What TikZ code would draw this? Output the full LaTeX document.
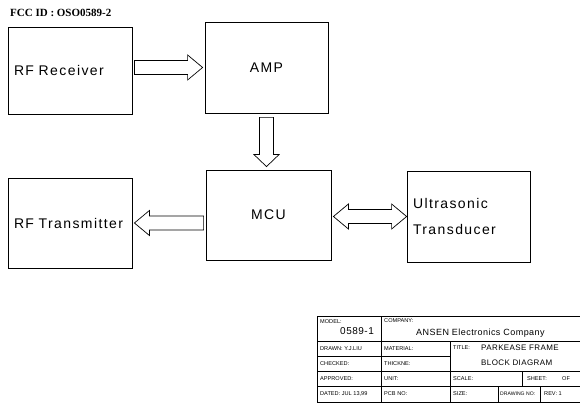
\documentclass[tikz,border=0pt]{standalone}
\usepackage{fontspec}
\setmainfont{Liberation Sans}
\newfontfamily\cadfont[LetterSpace=10]{Liberation Sans}
\newfontfamily\tbfont[LetterSpace=5]{Liberation Sans}
\newfontfamily\fccfont{Liberation Serif}
\usetikzlibrary{calc}

% hollow block arrows, one way, down, and both ways
\newcommand\harr[2]{%
\draw[hollow] let \p1=(#1), \p2=(#2), \n1={sign(\x2-\x1)} in
  ({\x1+\n1*2pt},{\y1+7pt}) -- ({\x2-\n1*17pt},{\y1+7pt}) -- ({\x2-\n1*17pt},{\y1+12.5pt})
  -- ({\x2-\n1*2pt},\y1) -- ({\x2-\n1*17pt},{\y1-12.5pt}) -- ({\x2-\n1*17pt},{\y1-7pt})
  -- ({\x1+\n1*2pt},{\y1-7pt}) -- cycle;}
\newcommand\varr[2]{%
\draw[hollow] let \p1=(#1), \p2=(#2), \n1={sign(\y2-\y1)} in
  ({\x1+7pt},{\y1+\n1*4pt}) -- ({\x1+7pt},{\y2-\n1*15pt}) -- ({\x1+12.5pt},{\y2-\n1*15pt})
  -- (\x1,{\y2-\n1*3pt}) -- ({\x1-12.5pt},{\y2-\n1*15pt}) -- ({\x1-7pt},{\y2-\n1*15pt})
  -- ({\x1-7pt},{\y1+\n1*4pt}) -- cycle;}
\newcommand\dharr[2]{%
\draw[hollow] let \p1=(#1), \p2=(#2), \n1={sign(\x2-\x1)} in
  ({\x1+\n1*2pt},\y1) -- ({\x1+\n1*17pt},{\y1+12.5pt}) -- ({\x1+\n1*17pt},{\y1+7pt})
  -- ({\x2-\n1*15pt},{\y1+7pt}) -- ({\x2-\n1*15pt},{\y1+12.5pt}) -- (\x2,\y1)
  -- ({\x2-\n1*15pt},{\y1-12.5pt}) -- ({\x2-\n1*15pt},{\y1-7pt})
  -- ({\x1+\n1*17pt},{\y1-7pt}) -- ({\x1+\n1*17pt},{\y1-12.5pt}) -- cycle;}

\begin{document}
\begin{tikzpicture}[x=1pt, y=-1pt,
	blk/.style={draw, line width=0.8pt, minimum width=124, minimum height=90, font=\cadfont\fontsize{14}{26}\selectfont},
	hollow/.style={draw, line width=0.7pt},
	tb/.style={font=\fontsize{5.6}{6.5}\selectfont, anchor=west, inner sep=0}]
\useasboundingbox (0,0) rectangle (580,411);

\node[anchor=west, inner sep=0, font=\fccfont\bfseries\fontsize{11}{13}\selectfont] (fcc) at (10,13) {FCC ID : OSO0589-2};

\node[blk, minimum height=87, text width=112, inner xsep=6, align=left] (rx) at (70,70.5) {RF Receiver};
\node[blk, minimum width=123, minimum height=91] (amp) at (266.5,67.5) {AMP};
\node[blk, minimum width=125] (mcu) at (268.5,215) {MCU};
\node[blk, text width=112, inner xsep=6, align=left] (tx) at (70,223) {RF Transmitter};
\node[blk, minimum width=123, minimum height=91, text width=111, inner xsep=6, align=left] (us) at (468.5,216.5) {Ultrasonic\\Transducer};

\harr{rx.east |- amp.west}{amp.west}
\varr{amp.south}{mcu.north}
\harr{mcu.west |- tx.east}{tx.east}
\dharr{mcu.east |- us.west}{us.west}

% title block
\draw[line width=0.6pt] (317,316) -- (580,316) (317,341) -- (580,341) (317,356) -- (450,356)
	(317,371) -- (580,371) (317,386) -- (580,386) (317,402) -- (580,402);
\draw[line width=0.6pt] (317,316) -- (317,402) (381,316) -- (381,402) (450,341) -- (450,402)
	(522,371) -- (522,386) (498,386) -- (498,402) (540,386) -- (540,402);

\node[tb] (model) at (320,322) {MODEL:};
\node[tb, font=\tbfont\fontsize{10}{12}\selectfont] (modelno) at (340,331) {0589-1};
\node[tb] (company) at (384,321) {COMPANY:};
\node[tb, font=\tbfont\fontsize{9}{11}\selectfont] (ansen) at (416,333) {ANSEN Electronics Company};
\node[tb] (drawn) at (320,349) {DRAWN: Y.J.LIU};
\node[tb] (material) at (384,349) {MATERIAL:};
\node[tb] (title) at (453,348) {TITLE:};
\node[tb, font=\tbfont\fontsize{8}{10}\selectfont] (title1) at (481,348) {PARKEASE FRAME};
\node[tb, font=\tbfont\fontsize{8}{10}\selectfont] (title2) at (481,362.5) {BLOCK DIAGRAM};
\node[tb] (checked) at (320,364) {CHECKED:};
\node[tb] (thick) at (384,364) {THICKNE:};
\node[tb] (approved) at (320,378.5) {APPROVED:};
\node[tb] (unit) at (384,378.5) {UNIT:};
\node[tb] (scale) at (453,378.5) {SCALE:};
\node[tb] (sheet) at (527,378.5) {SHEET:};
\node[tb] (of) at (562,378.5) {OF};
\node[tb] (dated) at (320,394) {DATED: JUL 13,99};
\node[tb] (pcb) at (384,394) {PCB NO:};
\node[tb] (size) at (453,394) {SIZE:};
\node[tb, font=\fontsize{5.1}{6}\selectfont] (dwgno) at (500,394) {DRAWING NO:};
\node[tb] (rev) at (544,394) {REV: 1};
\end{tikzpicture}
\end{document}
